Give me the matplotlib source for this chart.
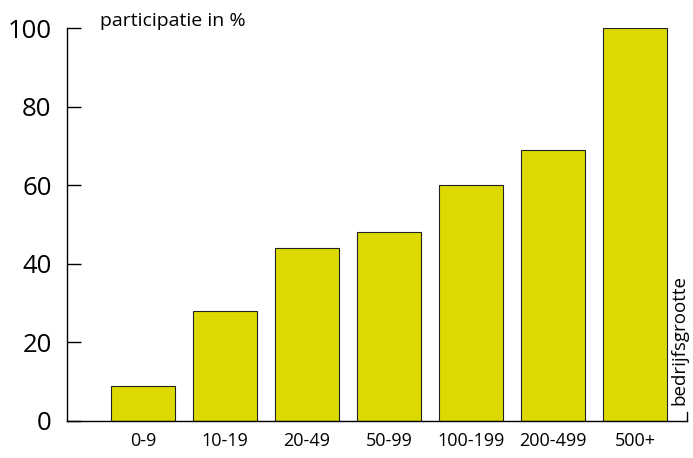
import matplotlib
matplotlib.use("Agg")
import matplotlib.pyplot as plt

plt.rcParams['font.family'] = ['Open Sans', 'DejaVu Sans']

categories = ['0-9', '10-19', '20-49', '50-99', '100-199', '200-499', '500+']
participation = [9, 28, 44, 48, 60, 69, 100]
yticks = [0, 20, 40, 60, 80, 100]

fig = plt.figure(figsize=(6.93, 4.58), dpi=100)
ax = fig.add_axes([67 / 693, 1 - 421 / 458, 620 / 693, 393 / 458])

x = list(range(len(categories)))
ax.bar(x, participation, width=0.78, color='#dcd900', edgecolor='#222222', linewidth=0.8)

ax.set_xlim(-0.927, 6.634)
ax.set_ylim(0, 100)
ax.set_xticks(x)
ax.set_xticklabels(categories, fontsize=13)
ax.set_yticks(yticks)
ax.set_yticklabels([str(v) for v in yticks], fontsize=18.5)
ax.tick_params(axis='y', direction='in', length=10, width=1, pad=11)
ax.tick_params(axis='x', length=0, pad=8)

for side in ['top', 'right']:
    ax.spines[side].set_visible(False)
ax.spines['left'].set_linewidth(1)
ax.spines['bottom'].set_linewidth(1)

# small bracket at the end of the x axis
ax.plot([1, 1], [0, 0.024], transform=ax.transAxes, color='black', lw=1, clip_on=False)
ax.text(1.002, 0.04, 'bedrijfsgrootte', transform=ax.transAxes, rotation=90,
        ha='right', va='bottom', fontsize=13.5)

ax.text(0.053, 1.005, 'participatie in %', transform=ax.transAxes,
        ha='left', va='baseline', fontsize=14)

fig.savefig('out.png', dpi=100)
